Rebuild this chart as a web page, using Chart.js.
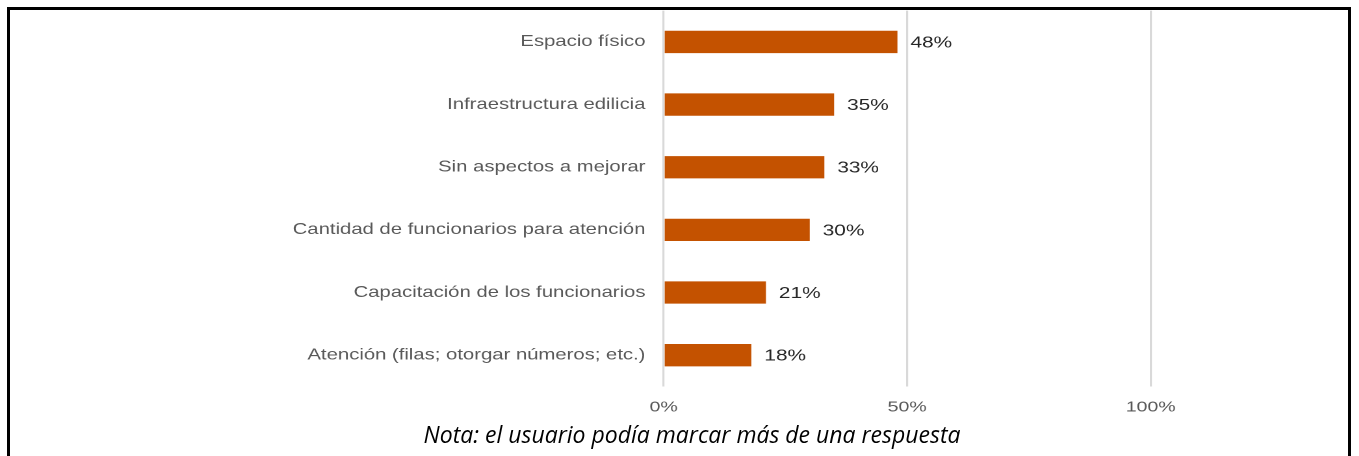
<!DOCTYPE html>
<html>
<head>
<meta charset="utf-8">
<script src="https://cdn.jsdelivr.net/npm/chart.js@4"></script>
<style>
    html, body { margin: 0; padding: 0; background: #fff; overflow: hidden; }
    #page { position: relative; width: 1359px; height: 456px; }
    #frame {
        position: absolute; left: 7px; top: 7px; width: 1338px; height: 470px;
        border: 3px solid #000;
    }
    /* the source picture is stretched sideways, so the chart is too */
    #stretch {
        position: absolute; left: 0; top: 0; width: 1045px; height: 456px;
        transform: scaleX(1.3); transform-origin: 0 0;
    }
    #note {
        position: absolute; left: 0; width: 1384px; top: 418px; text-align: center;
        font-family: "Open Sans", sans-serif; font-style: italic; font-size: 23px; color: #000;
    }
</style>
</head>
<body>
<div id="page">
    <div id="stretch"><canvas id="mejorasChart"></canvas></div>
    <div id="frame"></div>
    <div id="note">Nota: el usuario podía marcar más de una respuesta</div>
</div>

<script>
// Data
const categories = [
    'Espacio físico',
    'Infraestructura edilicia',
    'Sin aspectos a mejorar',
    'Cantidad de funcionarios para atención',
    'Capacitación de los funcionarios',
    'Atención (filas; otorgar números; etc.)'
];
const percentages = [48, 35, 33, 30, 21, 18];
const axisTicks = [0, 50, 100];

// --- Value labels at the end of each bar ---
const barLabels = {
    id: 'barLabels',
    afterDatasetsDraw(chart) {
        const ctx = chart.ctx;
        const meta = chart.getDatasetMeta(0);
        ctx.save();
        ctx.font = '16px "Liberation Sans", Arial, sans-serif';
        ctx.fillStyle = '#262626';
        ctx.textAlign = 'left';
        ctx.textBaseline = 'middle';
        meta.data.forEach((bar, i) => {
            ctx.fillText(percentages[i] + '%', bar.x + 10, bar.y + 1);
        });
        ctx.restore();
    }
};

const ctx = document.getElementById('mejorasChart').getContext('2d');
new Chart(ctx, {
    type: 'bar',
    data: {
        labels: categories,
        datasets: [{
            data: percentages,
            backgroundColor: '#c45200',
            borderWidth: 0,
            categoryPercentage: 1,
            barPercentage: 0.356
        }]
    },
    options: {
        indexAxis: 'y',
        responsive: true,
        maintainAspectRatio: false,
        devicePixelRatio: 2,
        animation: false,
        layout: { padding: { top: 10.6, right: 10, bottom: 0, left: 0 } },
        plugins: {
            legend: { display: false },
            tooltip: { enabled: false }
        },
        scales: {
            x: {
                min: 0,
                max: 140,
                afterBuildTicks: scale => { scale.ticks = axisTicks.map(v => ({ value: v })); },
                afterFit: scale => { scale.height = 69.5; },
                grid: { color: '#d9d9d9', lineWidth: 1.6, drawTicks: false },
                border: { display: false },
                ticks: {
                    padding: 12,
                    color: '#595959',
                    font: { family: '"Liberation Sans", Arial, sans-serif', size: 15 },
                    callback: v => v + '%'
                }
            },
            y: {
                afterFit: scale => {
                    scale.width = 510.5;
                    scale.paddingTop = 0;
                    scale.paddingBottom = 0;
                },
                grid: { display: false, drawTicks: false },
                border: { display: false },
                ticks: {
                    padding: 14,
                    color: '#595959',
                    font: { family: '"Liberation Sans", Arial, sans-serif', size: 15.6 }
                }
            }
        }
    },
    plugins: [barLabels]
});
</script>
</body>
</html>
